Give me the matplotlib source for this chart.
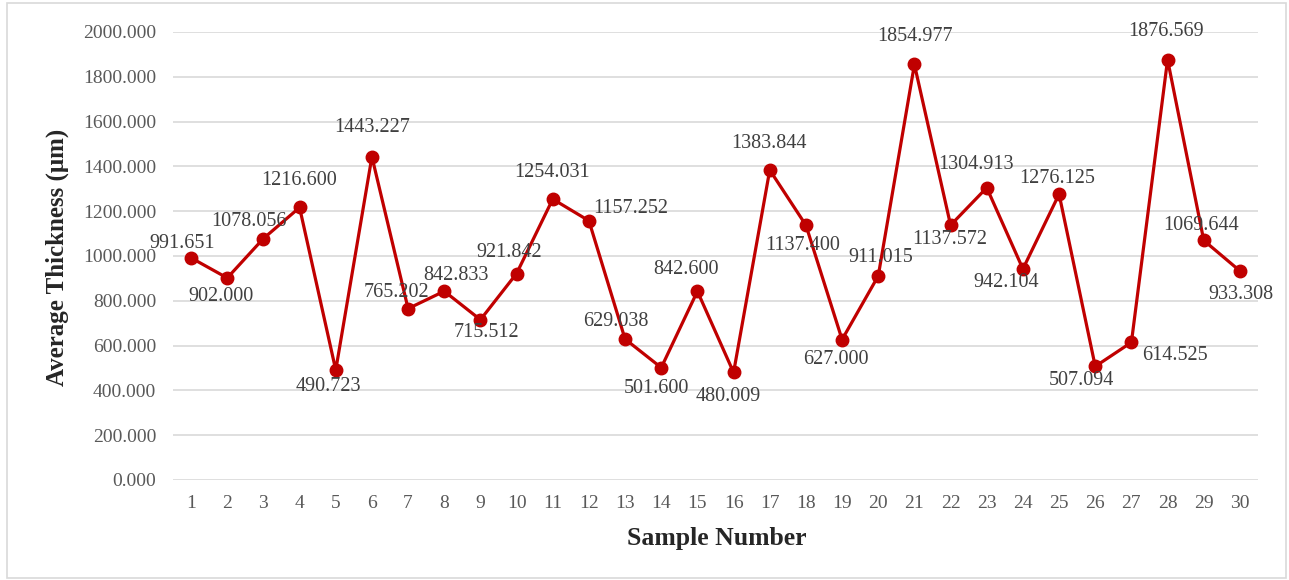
import matplotlib
matplotlib.use("Agg")
import matplotlib.pyplot as plt
from matplotlib.patches import Rectangle

samples = list(range(1, 31))
thickness = [991.651, 902.000, 1078.056, 1216.600, 490.723, 1443.227, 765.202,
             842.833, 715.512, 921.842, 1254.031, 1157.252, 629.038, 501.600,
             842.600, 480.009, 1383.844, 1137.400, 627.000, 911.015, 1854.977,
             1137.572, 1304.913, 942.104, 1276.125, 507.094, 614.525, 1876.569,
             1069.644, 933.308]
y_ticks = [0, 200, 400, 600, 800, 1000, 1200, 1400, 1600, 1800, 2000]

# label offsets (pixels) from each point, placed to avoid the line
label_offsets = [(-9, 14), (-6, -19), (-14, 17), (0, 27), (-7, -16), (0, 29),
                 (-12, 16), (12, 16), (6, -13), (-7, 21), (-1, 27), (42, 12),
                 (-9, 18), (-5, -21), (-11, 22), (-5, -24), (-1, 27), (-3, -20),
                 (-6, -20), (3, 18), (1, 28), (-1, -14), (-11, 23), (-17, -14),
                 (-2, 16), (-14, -14), (44, -13), (-2, 28), (-3, 15), (1, -24)]

plt.rcParams['font.family'] = ['Liberation Serif', 'DejaVu Serif']

fig = plt.figure(figsize=(12.89, 5.80), dpi=100)
ax = fig.add_axes([173 / 1289, 1 - 480 / 580, (1258 - 173) / 1289, 448 / 580])

line_color = '#C00000'
ax.plot(samples, thickness, color=line_color, linewidth=2.3, marker='o',
        markersize=9, markerfacecolor=line_color, markeredgecolor=line_color,
        zorder=3)

for x, y, (dx, dy) in zip(samples, thickness, label_offsets):
    ax.annotate(f"{y:.3f}", xy=(x, y), xytext=(dx, dy), textcoords='offset pixels',
                ha='center', va='center', fontsize=14.5, color='#404040', zorder=4)

ax.set_xlim(0.5, 30.5)
ax.set_ylim(0, 2000)
ax.set_xticks(samples)
ax.set_xticklabels([str(s) for s in samples])
ax.set_yticks(y_ticks)
ax.set_yticklabels([f"{v:.3f}" for v in y_ticks])
ax.tick_params(axis='both', length=0, labelsize=14, labelcolor='#595959')
ax.tick_params(axis='x', pad=11)
ax.tick_params(axis='y', pad=12)
ax.grid(axis='y', color='#D9D9D9', linewidth=1.2)
ax.set_axisbelow(True)
for s in ax.spines.values():
    s.set_visible(False)

fig.text(717 / 1289, 1 - 538 / 580, 'Sample Number', ha='center', va='center',
         fontsize=18.5, fontweight='bold', color='#262626')
fig.text(57 / 1289, 1 - 257 / 580, 'Average Thickness (μm)', ha='center',
         va='center', rotation=90, fontsize=18, fontweight='bold', color='#262626')

fig.patches.append(Rectangle((7 / 1289, 1 - 578 / 580), 1279 / 1289, 575 / 580,
                             transform=fig.transFigure, fill=False,
                             edgecolor='#D9D9D9', linewidth=1.2))

fig.savefig('out.png', dpi=100, facecolor='white')
